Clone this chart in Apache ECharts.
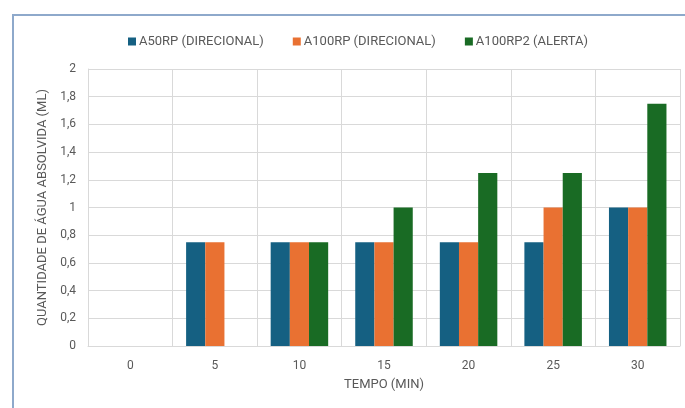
<!DOCTYPE html>
<html><head><meta charset="utf-8">
<script src="https://cdn.jsdelivr.net/npm/echarts@6/dist/echarts.min.js"></script>
<style>
html,body{margin:0;padding:0;background:#fff;}
#frame{position:absolute;left:12px;top:14px;width:690px;height:400px;border-left:2px solid #8ea9cb;border-top:2px solid #8ea9cb;box-sizing:border-box;}
#c{position:absolute;left:0;top:0;width:685px;height:408px;}
</style></head>
<body>
<div id="frame"></div>
<div id="c"></div>
<script>
var categories = ['0','5','10','15','20','25','30'];
var seriesNames = ['A50RP (DIRECIONAL)','A100RP (DIRECIONAL)','A100RP2 (ALERTA)'];
var a50rp = [null,0.75,0.75,0.75,0.75,0.75,1];
var a100rp = [null,0.75,0.75,0.75,0.75,1,1];
var a100rp2 = [null,null,0.75,1,1.25,1.25,1.75];
var yTicks = [0,0.2,0.4,0.6,0.8,1,1.2,1.4,1.6,1.8,2];

var colors = ['#156082','#e97132','#196b24'];
var txt = '#595959';
var font = 'Roboto';
var chart = echarts.init(document.getElementById('c'));
var dataSets = [a50rp, a100rp, a100rp2];
chart.setOption({
  animation:false,
  color: colors,
  legend:{
    top: 30, left: 123, itemWidth:8, itemHeight:8, itemGap:29,
    icon:'rect',
    textStyle:{color:txt, fontFamily:font, fontSize:13, padding:[0,0,0,-2]},
    data: seriesNames
  },
  grid:{left:88, right:5, top:69, bottom:62},
  xAxis:{
    type:'category', data:categories,
    name:'TEMPO (MIN)', nameLocation:'middle', nameGap:32,
    nameTextStyle:{color:txt, fontFamily:font, fontSize:13},
    axisLine:{lineStyle:{color:'#d9d9d9'}},
    axisTick:{show:false},
    axisLabel:{color:txt, fontFamily:font, fontSize:12, margin:14},
    splitLine:{show:true, lineStyle:{color:'#d9d9d9'}}
  },
  yAxis:{
    type:'value', min:0, max:2, interval:0.2,
    name:'QUANTIDADE DE ÁGUA ABSOLVIDA (ML)', nameLocation:'middle', nameGap:38,
    nameTextStyle:{color:txt, fontFamily:font, fontSize:13},
    axisLine:{show:true, lineStyle:{color:'#d9d9d9'}},
    axisLabel:{color:txt, fontFamily:font, fontSize:12, margin:12,
      formatter:function(v){ var t = yTicks.find(function(x){return Math.abs(x-v)<1e-9;}); return String(t===undefined?v:t).replace('.',','); }},
    splitLine:{lineStyle:{color:'#d9d9d9'}}
  },
  series: dataSets.map(function(d,i){
    return {name:seriesNames[i], type:'bar', data:d, barGap:'0%', barCategoryGap:'32%', itemStyle:{color:colors[i]}};
  })
});
</script>
</body></html>
